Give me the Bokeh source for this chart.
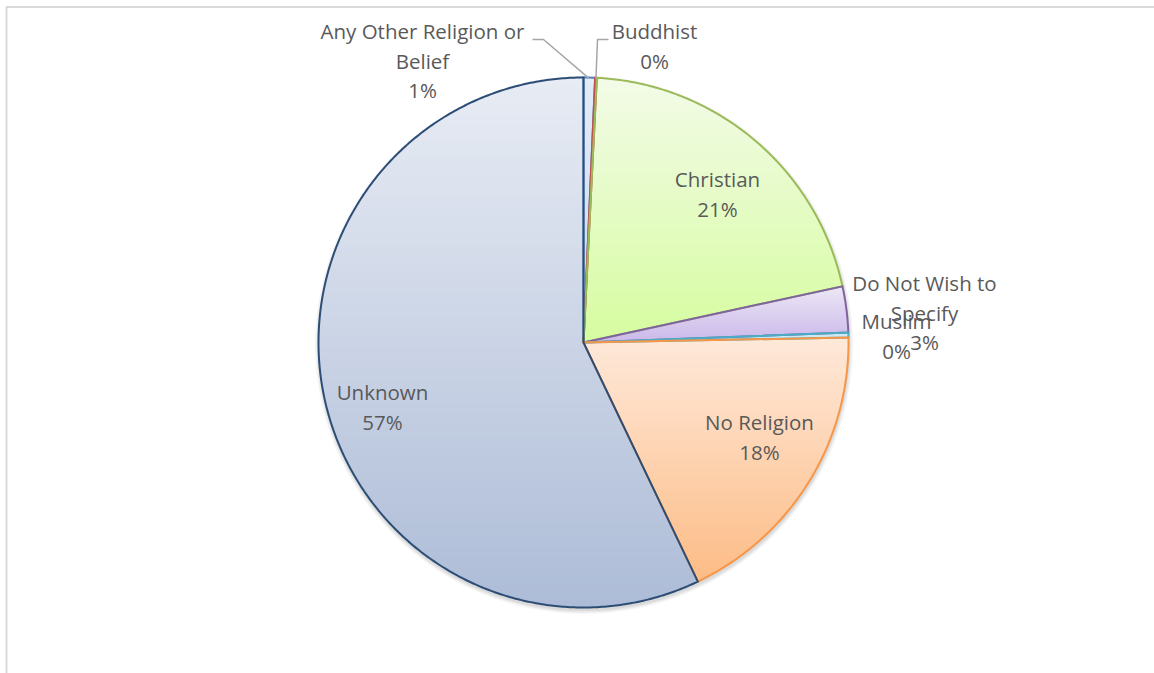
import numpy as np
from bokeh.plotting import figure
from bokeh.models import Range1d
from bokeh.core.properties import value
from bokeh.embed import file_html
from bokeh.resources import INLINE

# ---------------- data ----------------
categories = ["Any Other Religion or Belief", "Buddhist", "Christian",
              "Do Not Wish to Specify", "Muslim", "No Religion", "Unknown"]
shares = [0.7, 0.1, 20.8, 2.8, 0.3, 18.2, 57.1]

# ---------------- styles / layout ----------------
grad_top = ["#e3ebf8", "#f6dcdb", "#f3fbe8", "#ede7f6", "#def2f8", "#fee9da", "#e8ecf4"]
grad_bot = ["#c9d9f2", "#e9a9a7", "#d6fca0", "#cbb9ea", "#a8dded", "#fdbc86", "#adbcd7"]
outline = ["#4f81bd", "#c0504d", "#9bbb59", "#8064a2", "#4bacc6", "#f79646", "#2c4d75"]

label_lines = {
    "Any Other Religion or Belief": ["Any Other Religion or", "Belief"],
    "Do Not Wish to Specify": ["Do Not Wish to", "Specify"],
}
label_pos = {
    "Any Other Religion or Belief": (422, 30.5),
    "Buddhist": (654, 30.5),
    "Christian": (717, 178.5),
    "Do Not Wish to Specify": (924, 282.5),
    "Muslim": (896, 320.5),
    "No Religion": (759, 421.5),
    "Unknown": (382, 391.5),
}
leader_elbows = {
    "Any Other Religion or Belief": [(532, 39), (543, 39)],
    "Buddhist": [(608, 39), (597, 39)],
}
CX, CY, R = 583.0, 342.0, 265.0
LINE_H = 29.5
FONT = "Open Sans"
FONT_SIZE = "20.5px"
TEXT_COLOR = "#595959"

W, H = 1154, 673
p = figure(width=W, height=H, x_range=Range1d(0, W), y_range=Range1d(H, 0),
           output_backend="svg", toolbar_location=None, min_border=0)
p.axis.visible = False
p.grid.visible = False
p.outline_line_color = None
p.background_fill_color = "white"
p.border_fill_color = "white"

# chart frame (top and left edges visible)
p.line([6, 6, W + 5], [H + 5, 6.5, 6.5], line_color="#d9d9d9", line_width=2)


def hex2rgb(h):
    h = h.lstrip("#")
    return np.array([int(h[i:i + 2], 16) for i in (0, 2, 4)], dtype=float)


def rgb2hex(c):
    return "#%02x%02x%02x" % tuple(int(round(v)) for v in c)


def clip_half(pts, keep, inter):
    out = []
    n = len(pts)
    for i in range(n):
        cur, prev = pts[i], pts[i - 1]
        if keep(cur):
            if not keep(prev):
                out.append(inter(prev, cur))
            out.append(cur)
        elif keep(prev):
            out.append(inter(prev, cur))
    return out


def y_inter(yv):
    def f(a, b):
        t = (yv - a[1]) / (b[1] - a[1])
        return (a[0] + t * (b[0] - a[0]), yv)
    return f


def clip_band(pts, y0, y1):
    a = clip_half(pts, lambda q: q[1] >= y0, y_inter(y0))
    if not a:
        return a
    return clip_half(a, lambda q: q[1] <= y1, y_inter(y1))


def pt(theta, r=R):
    return (CX + r * np.sin(theta), CY - r * np.cos(theta))


total = float(sum(shares))
fracs = [s / total for s in shares]
ends = np.cumsum(fracs) * 2 * np.pi
starts = np.concatenate([[0.0], ends[:-1]])

# soft shadow
for k, a in [(4, 0.04), (2.5, 0.05), (1.2, 0.06)]:
    p.circle(x=[CX + 0.5], y=[CY + 2.5], radius=R + k, fill_color="black",
             fill_alpha=a, line_color=None)

polys = []
band_xs, band_ys, band_cols = [], [], []
for i, cat in enumerate(categories):
    a0, a1 = starts[i], ends[i]
    n = max(4, int(np.degrees(a1 - a0) * 2))
    arc = [pt(t) for t in np.linspace(a0, a1, n)]
    poly = [(CX, CY)] + arc
    polys.append(poly)
    ys_all = [q[1] for q in poly]
    ymin, ymax = min(ys_all), max(ys_all)
    ct, cb = hex2rgb(grad_top[i]), hex2rgb(grad_bot[i])
    step = 3.0
    nb = max(1, int(np.ceil((ymax - ymin) / step)))
    edges = np.linspace(ymin, ymax, nb + 1)
    for b in range(nb):
        y0, y1 = edges[b] - 0.6, edges[b + 1] + 0.6
        piece = clip_band(poly, y0, y1)
        if len(piece) < 3:
            continue
        t = ((edges[b] + edges[b + 1]) / 2 - ymin) / max(ymax - ymin, 1e-9)
        band_xs.append([q[0] for q in piece])
        band_ys.append([q[1] for q in piece])
        band_cols.append(rgb2hex(ct + (cb - ct) * t))

p.patches(band_xs, band_ys, fill_color=band_cols, line_color=None)

for i, poly in enumerate(polys):
    p.patches([[q[0] for q in poly]], [[q[1] for q in poly]], fill_alpha=0,
              line_color=outline[i], line_width=2, line_join="miter")

# leader lines
for i, cat in enumerate(categories):
    if cat in leader_elbows:
        mid = (starts[i] + ends[i]) / 2
        end = pt(mid, R - 1)
        pts = leader_elbows[cat] + [end]
        p.line([q[0] for q in pts], [q[1] for q in pts], line_color="#a6a6a6",
               line_width=1.5)

# labels
tx, ty, tt = [], [], []
for i, cat in enumerate(categories):
    lines = label_lines.get(cat, [cat]) + [f"{round(shares[i] / total * 100)}%"]
    x0, y0 = label_pos[cat]
    for k, s in enumerate(lines):
        tx.append(x0)
        ty.append(y0 + k * LINE_H)
        tt.append(s)

p.text(x=tx, y=ty, text=tt, text_font=value(FONT), text_font_size=FONT_SIZE,
       text_color=TEXT_COLOR, text_align="center", text_baseline="middle")

open("out.html", "w").write(file_html(p, INLINE))
